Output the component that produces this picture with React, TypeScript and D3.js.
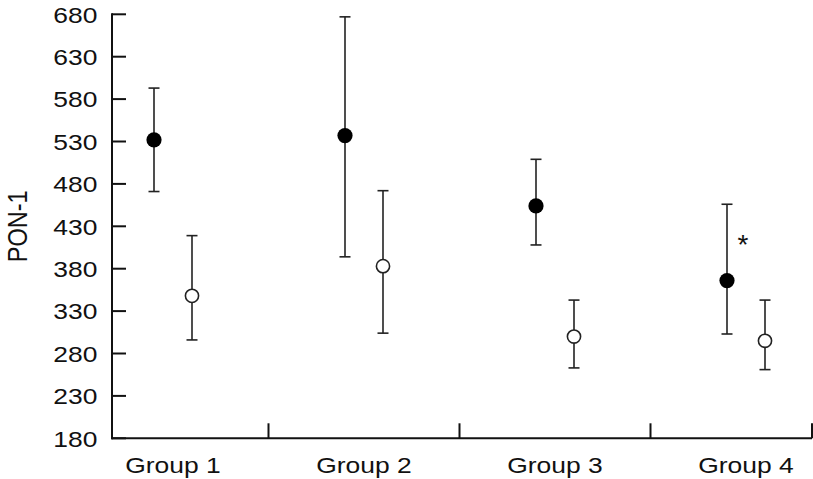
import React from 'react';
import * as d3 from 'd3';

const categories = ['Group 1', 'Group 2', 'Group 3', 'Group 4'];
const yTicks = [180, 230, 280, 330, 380, 430, 480, 530, 580, 630, 680];
const filledMean = [532, 537, 454, 366];
const filledUpper = [593, 677, 509, 456];
const filledLower = [471, 394, 408, 303];
const openMean = [348, 383, 300, 295];
const openUpper = [419, 472, 343, 343];
const openLower = [296, 304, 263, 261];
const significant = [false, false, false, true];
const yLabel = 'PON-1';

const W = 813;
const H = 479;
const axisX = 112;
const axisRight = 812;
const FONT = '"Liberation Sans", Arial, Helvetica, sans-serif';
const SX = 1.16;
const FS = 22.8;

export default function App() {
  const y = d3.scaleLinear().domain([180, 680]).range([438.3, 14.3]);
  const x = d3.scaleBand<string>().domain(categories).range([77.5, 841.5]);
  const sub = d3.scalePoint<string>().domain(['filled', 'open']).range([-19, 19]);
  const bw = x.bandwidth();
  const baseY = y(180);
  const boundaries = categories.slice(1).map((c) => x(c)!).concat([axisRight]);

  const series = [
    { key: 'filled', mean: filledMean, up: filledUpper, lo: filledLower },
    { key: 'open', mean: openMean, up: openUpper, lo: openLower },
  ];

  return (
    <svg width={W} height={H} style={{ position: 'absolute', left: 0, top: 0, background: '#fff' }}>
      <rect width={W} height={H} fill="#fff" />
      {/* y axis */}
      <line x1={axisX} x2={axisX} y1={y(680) - 1} y2={baseY + 1} stroke="#111" strokeWidth={2} />
      {yTicks.map((t) => (
        <g key={t}>
          <line x1={axisX} x2={axisX + 14} y1={y(t)} y2={y(t)} stroke="#111" strokeWidth={2} />
          <text
            transform={`translate(97.5,${y(t)}) scale(${SX},1)`}
            textAnchor="end"
            dy="0.36em"
            fontFamily={FONT}
            fontSize={FS}
            fill="#111"
          >
            {t}
          </text>
        </g>
      ))}
      {/* x axis */}
      <line x1={axisX - 1} x2={axisRight} y1={baseY} y2={baseY} stroke="#111" strokeWidth={2} />
      {boundaries.map((b, i) => (
        <line key={i} x1={b} x2={b} y1={baseY} y2={baseY - 15} stroke="#111" strokeWidth={2} />
      ))}
      {categories.map((c) => (
        <text
          key={c}
          transform={`translate(${x(c)! + bw / 2},472.5) scale(${SX},1)`}
          textAnchor="middle"
          fontFamily={FONT}
          fontSize={FS}
          fill="#111"
        >
          {c}
        </text>
      ))}
      {/* y label */}
      <text
        transform={`translate(27,${(y(680) + baseY) / 2}) scale(${SX},1) rotate(-90)`}
        textAnchor="middle"
        fontFamily={FONT}
        fontSize={23.5}
        fill="#111"
      >
        {yLabel}
      </text>
      {/* error bars and points */}
      {series.map((s) =>
        categories.map((c, i) => {
          const cx = x(c)! + bw / 2 + sub(s.key)!;
          return (
            <g key={s.key + c}>
              <line x1={cx} x2={cx} y1={y(s.up[i])} y2={y(s.lo[i])} stroke="#222" strokeWidth={1.6} />
              <line x1={cx - 5.5} x2={cx + 5.5} y1={y(s.up[i])} y2={y(s.up[i])} stroke="#222" strokeWidth={1.6} />
              <line x1={cx - 5.5} x2={cx + 5.5} y1={y(s.lo[i])} y2={y(s.lo[i])} stroke="#222" strokeWidth={1.6} />
              {s.key === 'filled' ? (
                <circle cx={cx} cy={y(s.mean[i])} r={7.6} fill="#000" />
              ) : (
                <circle cx={cx} cy={y(s.mean[i])} r={6.6} fill="#fff" stroke="#222" strokeWidth={1.6} />
              )}
            </g>
          );
        })
      )}
      {categories.map((c, i) =>
        significant[i] ? (
          <text
            key={'sig' + c}
            x={x(c)! + bw / 2 + sub('filled')! + 16}
            y={y(filledUpper[i]) + 50}
            textAnchor="middle"
            fontFamily={FONT}
            fontSize={28}
            fill="#111"
          >
            *
          </text>
        ) : null
      )}
    </svg>
  );
}
